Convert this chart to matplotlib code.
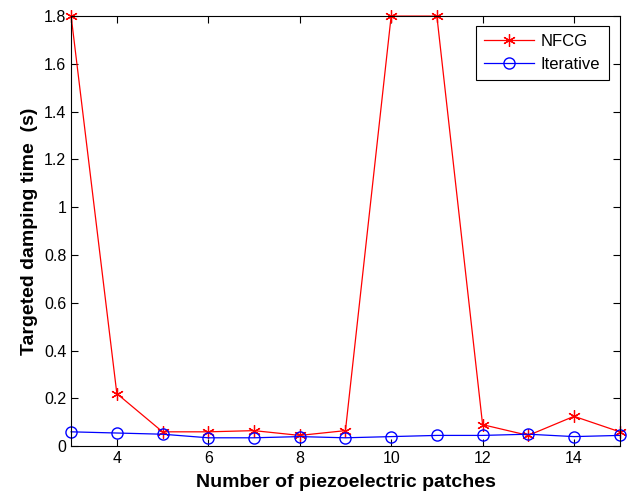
import matplotlib.pyplot as plt

plt.rcParams['font.family'] = ['Liberation Sans', 'DejaVu Sans']

# number of patches and damping times for both methods
patches = list(range(3, 16))
nfcg = [1.8, 0.22, 0.06, 0.06, 0.065, 0.045, 0.065, 1.8, 1.8, 0.09, 0.045, 0.125, 0.06]
iterative = [0.06, 0.055, 0.05, 0.035, 0.035, 0.04, 0.035, 0.04, 0.045, 0.045, 0.05, 0.04, 0.045]

fig = plt.figure(figsize=(6.35, 5.03), dpi=100)
ax = fig.add_axes([0.112, 0.113, 0.864, 0.855])

# asterisk marker like matlab's '*'
ax.plot(patches, nfcg, color='red', marker=(6, 2, 0), markersize=9, markeredgewidth=0.9,
        linewidth=0.9, label='NFCG', clip_on=False)
ax.plot(patches, iterative, color='blue', marker='o', markersize=8, markerfacecolor='none',
        linewidth=0.9, label='Iterative', clip_on=False)

ax.set_xlim(3, 15)
ax.set_ylim(0, 1.8)
ax.set_xticks([4, 6, 8, 10, 12, 14])
ax.set_yticks([0, 0.2, 0.4, 0.6, 0.8, 1, 1.2, 1.4, 1.6, 1.8])
ax.set_yticklabels(['0', '0.2', '0.4', '0.6', '0.8', '1', '1.2', '1.4', '1.6', '1.8'])
ax.tick_params(direction='in', top=True, right=True, labelsize=11.5, length=5)

ax.set_xlabel('Number of piezoelectric patches', fontsize=14, fontweight='bold', labelpad=6)
ax.set_ylabel('Targeted damping time  (s)', fontsize=14, fontweight='bold')

leg = ax.legend(loc='upper right', fontsize=12, fancybox=False, framealpha=1,
                edgecolor='black', handlelength=3.0, handletextpad=0.4, borderpad=0.5,
                labelspacing=0.45, borderaxespad=0, bbox_to_anchor=(0.98, 0.977))
leg.get_frame().set_linewidth(0.8)

fig.savefig('out.png', dpi=100)
